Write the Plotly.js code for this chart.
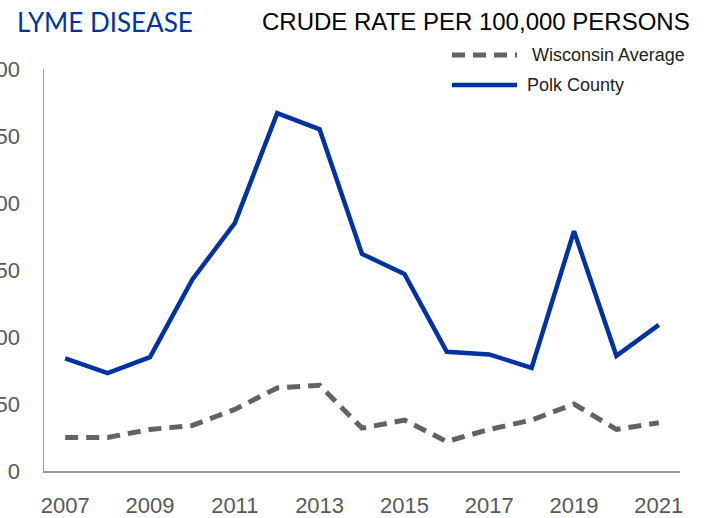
<!DOCTYPE html>
<html><head><meta charset="utf-8">
<script src="https://cdn.plot.ly/plotly-3.0.1.min.js"></script>
<style>html,body{margin:0;padding:0;background:#fff}#chart{width:710px;height:518px}</style>
</head><body><div id="chart"></div>
<script>
const years = [2007,2008,2009,2010,2011,2012,2013,2014,2015,2016,2017,2018,2019,2020,2021];
const polkCounty = [84,73,85,143,185,267,255,162,147,89,87,77,179,86,109];
const wisconsinAvg = [25,25,31,34,46,62,64,32,38,22,31,38,50,31,36];
const seriesNames = ["Wisconsin Average","Polk County"];
const yTicks = [0,50,100,150,200,250,300];
const xTicks = [2007,2009,2011,2013,2015,2017,2019,2021];

const FONT = "Liberation Sans, Arial, sans-serif";
const grayLine = "#646262", blue = "#0033a1";

const traces = [
  {x: years, y: wisconsinAvg, name: seriesNames[0], mode: "lines",
   line: {color: grayLine, width: 5, dash: "13px,8px"}, showlegend: false},
  {x: years, y: polkCounty, name: seriesNames[1], mode: "lines",
   line: {color: blue, width: 4.5}, showlegend: false}
];

const layout = {
  width: 710, height: 518,
  margin: {l: 44, r: 30, t: 69, b: 47},
  paper_bgcolor: "#fff", plot_bgcolor: "#fff",
  showlegend: false,
  xaxis: {range: [2006.5, 2021.5], tickvals: xTicks, ticktext: xTicks.map(String),
    showgrid: false, zeroline: false, showline: true, linecolor: "#9a9a9a", linewidth: 1.5,
    ticks: "", ticklabelstandoff: 14, tickfont: {family: FONT, size: 22, color: "#595959"}},
  yaxis: {range: [0, 300], tickvals: yTicks, ticktext: yTicks.map(String),
    showgrid: false, zeroline: false, showline: true, linecolor: "#9a9a9a", linewidth: 1.5,
    ticks: "", ticklabelstandoff: 18, tickfont: {family: FONT, size: 22, color: "#595959"}},
  shapes: [
    {type: "line", xref: "paper", yref: "paper", x0: 0.6415, x1: 0.7437, y0: 1.035, y1: 1.035,
     line: {color: grayLine, width: 5, dash: "13px,8px"}},
    {type: "line", xref: "paper", yref: "paper", x0: 0.6415, x1: 0.7437, y0: 0.960, y1: 0.960,
     line: {color: blue, width: 4.5}}
  ],
  annotations: [
    {text: "LYME DISEASE", xref: "paper", yref: "paper", x: -0.0456, y: 1.117,
     xanchor: "left", yanchor: "middle", showarrow: false,
     font: {family: "Lato, " + FONT, size: 26, color: blue}},
    {text: "CRUDE RATE PER 100,000 PERSONS", xref: "paper", yref: "paper", x: 1.019, y: 1.117,
     xanchor: "right", yanchor: "middle", showarrow: false,
     font: {family: FONT, size: 24, color: "#000"}},
    {text: seriesNames[0], xref: "paper", yref: "paper", x: 0.764, y: 1.035,
     xanchor: "left", yanchor: "middle", showarrow: false,
     font: {family: FONT, size: 18, color: "#222"}},
    {text: seriesNames[1], xref: "paper", yref: "paper", x: 0.757, y: 0.960,
     xanchor: "left", yanchor: "middle", showarrow: false,
     font: {family: FONT, size: 18, color: "#222"}}
  ]
};
Plotly.newPlot("chart", traces, layout, {displayModeBar: false, staticPlot: true});
</script></body></html>
